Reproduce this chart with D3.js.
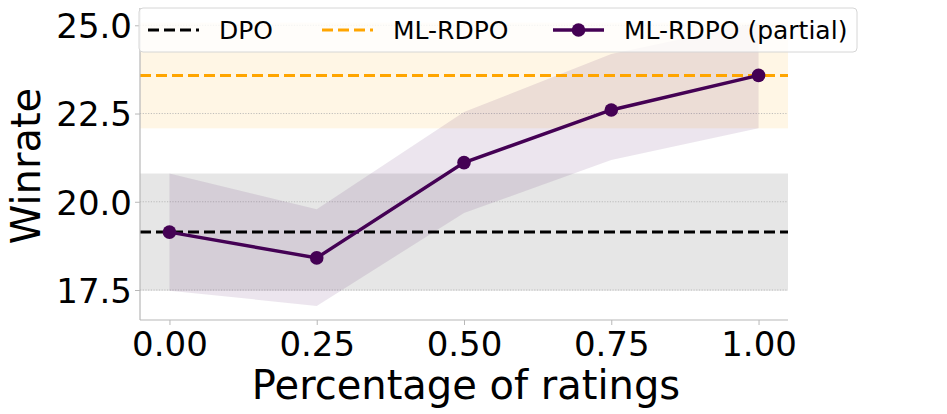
<!DOCTYPE html>
<html lang="en">
<head>
    <meta charset="UTF-8">
    <title>Winrate vs percentage of ratings</title>
    <script src="https://d3js.org/d3.v7.min.js"></script>
    <style>
        body { margin: 0; background: #fff; }
        svg { display: block; }
        text { font-family: 'DejaVu Sans', sans-serif; fill: #000; }
    </style>
</head>
<body>
<div id="chart"></div>
<script>
    // data
    const pct = [0.00, 0.25, 0.50, 0.75, 1.00];
    const partialMean = [19.14, 18.41, 21.11, 22.60, 23.58];
    const partialLow = [17.48, 17.05, 19.68, 21.18, 22.08];
    const partialHigh = [20.80, 19.79, 22.54, 24.19, 25.08];

    const dpoMean = 19.14, dpoLow = 17.48, dpoHigh = 20.80;
    const mlMean = 23.58, mlLow = 22.08, mlHigh = 25.08;

    const xTicks = [0, 0.25, 0.5, 0.75, 1.0];
    const yTicks = [17.5, 20.0, 22.5, 25.0];
    const legendLabels = ["DPO", "ML-RDPO", "ML-RDPO (partial)"];

    const purple = "#440154", orange = "#ffa500";

    const width = 947, height = 414;
    const svg = d3.select("#chart").append("svg")
        .attr("width", width)
        .attr("height", height);

    const plotL = 140, plotR = 788, plotT = 8, plotB = 320;

    const x = d3.scaleLinear().domain([-0.05, 1.05]).range([plotL, plotR]);
    const y = d3.scaleLinear().domain([16.65, 25.49]).range([plotB, plotT]);

    // horizontal spans (std bands)
    svg.append("rect")
        .attr("x", plotL).attr("width", plotR - plotL)
        .attr("y", y(dpoHigh)).attr("height", y(dpoLow) - y(dpoHigh))
        .attr("fill", "grey").attr("fill-opacity", 0.2);
    svg.append("rect")
        .attr("x", plotL).attr("width", plotR - plotL)
        .attr("y", y(mlHigh)).attr("height", y(mlLow) - y(mlHigh))
        .attr("fill", orange).attr("fill-opacity", 0.1);

    // grid lines
    svg.selectAll(".grid").data(yTicks).enter().append("line")
        .attr("x1", plotL).attr("x2", plotR)
        .attr("y1", d => y(d)).attr("y2", d => y(d))
        .attr("stroke", "#b0b0b0").attr("stroke-width", 0.8)
        .attr("stroke-dasharray", "1.2,1.5");

    // fill between for partial
    const area = d3.area()
        .x((d, i) => x(pct[i]))
        .y0((d, i) => y(partialLow[i]))
        .y1((d, i) => y(partialHigh[i]));
    svg.append("path")
        .datum(pct)
        .attr("d", area)
        .attr("fill", purple).attr("fill-opacity", 0.1);

    // reference lines
    svg.append("line")
        .attr("x1", plotL).attr("x2", plotR)
        .attr("y1", y(dpoMean)).attr("y2", y(dpoMean))
        .attr("stroke", "#000").attr("stroke-width", 3)
        .attr("stroke-dasharray", "11,5");
    svg.append("line")
        .attr("x1", plotL).attr("x2", plotR)
        .attr("y1", y(mlMean)).attr("y2", y(mlMean))
        .attr("stroke", orange).attr("stroke-width", 3)
        .attr("stroke-dasharray", "11,5");

    // partial line + markers
    const line = d3.line()
        .x((d, i) => x(pct[i]))
        .y(d => y(d));
    svg.append("path")
        .datum(partialMean)
        .attr("d", line)
        .attr("fill", "none")
        .attr("stroke", purple).attr("stroke-width", 3.4);
    svg.selectAll(".pt").data(partialMean).enter().append("circle")
        .attr("cx", (d, i) => x(pct[i]))
        .attr("cy", d => y(d))
        .attr("r", 6.8)
        .attr("fill", purple);

    // axes
    const xAxis = svg.append("g")
        .attr("transform", `translate(0,${plotB})`)
        .call(d3.axisBottom(x).tickValues(xTicks).tickFormat(d3.format(".2f")).tickSize(5).tickPadding(5));
    const yAxis = svg.append("g")
        .attr("transform", `translate(${plotL},0)`)
        .call(d3.axisLeft(y).tickValues(yTicks).tickFormat(d3.format(".1f")).tickSize(5).tickPadding(3));

    [xAxis, yAxis].forEach(g => {
        g.select(".domain").attr("stroke", "#b8b8b8").attr("stroke-width", 1.2);
        g.selectAll(".tick line").attr("stroke", "#b8b8b8").attr("stroke-width", 1);
        g.selectAll(".tick text")
            .style("font-family", "'DejaVu Sans', sans-serif")
            .style("font-size", "34px")
            .attr("fill", "#000");
    });
    // plain spine lines (no end ticks)
    xAxis.select(".domain").attr("d", `M${plotL},0H${plotR}`);
    yAxis.select(".domain").attr("d", `M0,${plotB}V${plotT}`);
    xAxis.selectAll(".tick text").attr("dy", "0.76em");
    yAxis.selectAll(".tick text").attr("dy", "0.36em");

    // axis labels
    svg.append("text")
        .attr("x", (plotL + plotR) / 2 + 2).attr("y", 399)
        .attr("text-anchor", "middle")
        .style("font-size", "40px")
        .text("Percentage of ratings");
    svg.append("text")
        .attr("transform", "translate(40,166) rotate(-90)")
        .attr("text-anchor", "middle")
        .style("font-size", "40px")
        .text("Winrate");

    // legend
    const lg = svg.append("g");
    lg.append("rect")
        .attr("x", 139).attr("y", 8).attr("width", 718).attr("height", 44)
        .attr("rx", 4)
        .attr("fill", "#fff").attr("fill-opacity", 0.8)
        .attr("stroke", "#d6d6d6").attr("stroke-width", 1);

    const handleX = [148, 322, 553];
    const ly = 30;
    const styles = [
        { color: "#000", dash: "11,5", marker: false },
        { color: orange, dash: "11,5", marker: false },
        { color: purple, dash: null, marker: true }
    ];
    legendLabels.forEach((lab, i) => {
        const s = styles[i];
        lg.append("line")
            .attr("x1", handleX[i]).attr("x2", handleX[i] + 51)
            .attr("y1", ly).attr("y2", ly)
            .attr("stroke", s.color).attr("stroke-width", i === 2 ? 3.4 : 3)
            .attr("stroke-dasharray", s.dash);
        if (s.marker) {
            lg.append("circle")
                .attr("cx", handleX[i] + 25.5).attr("cy", ly).attr("r", 6.8)
                .attr("fill", s.color);
        }
        lg.append("text")
            .attr("x", handleX[i] + 71).attr("y", ly)
            .attr("dy", "0.36em")
            .style("font-size", "25px")
            .text(lab);
    });
</script>
</body>
</html>
